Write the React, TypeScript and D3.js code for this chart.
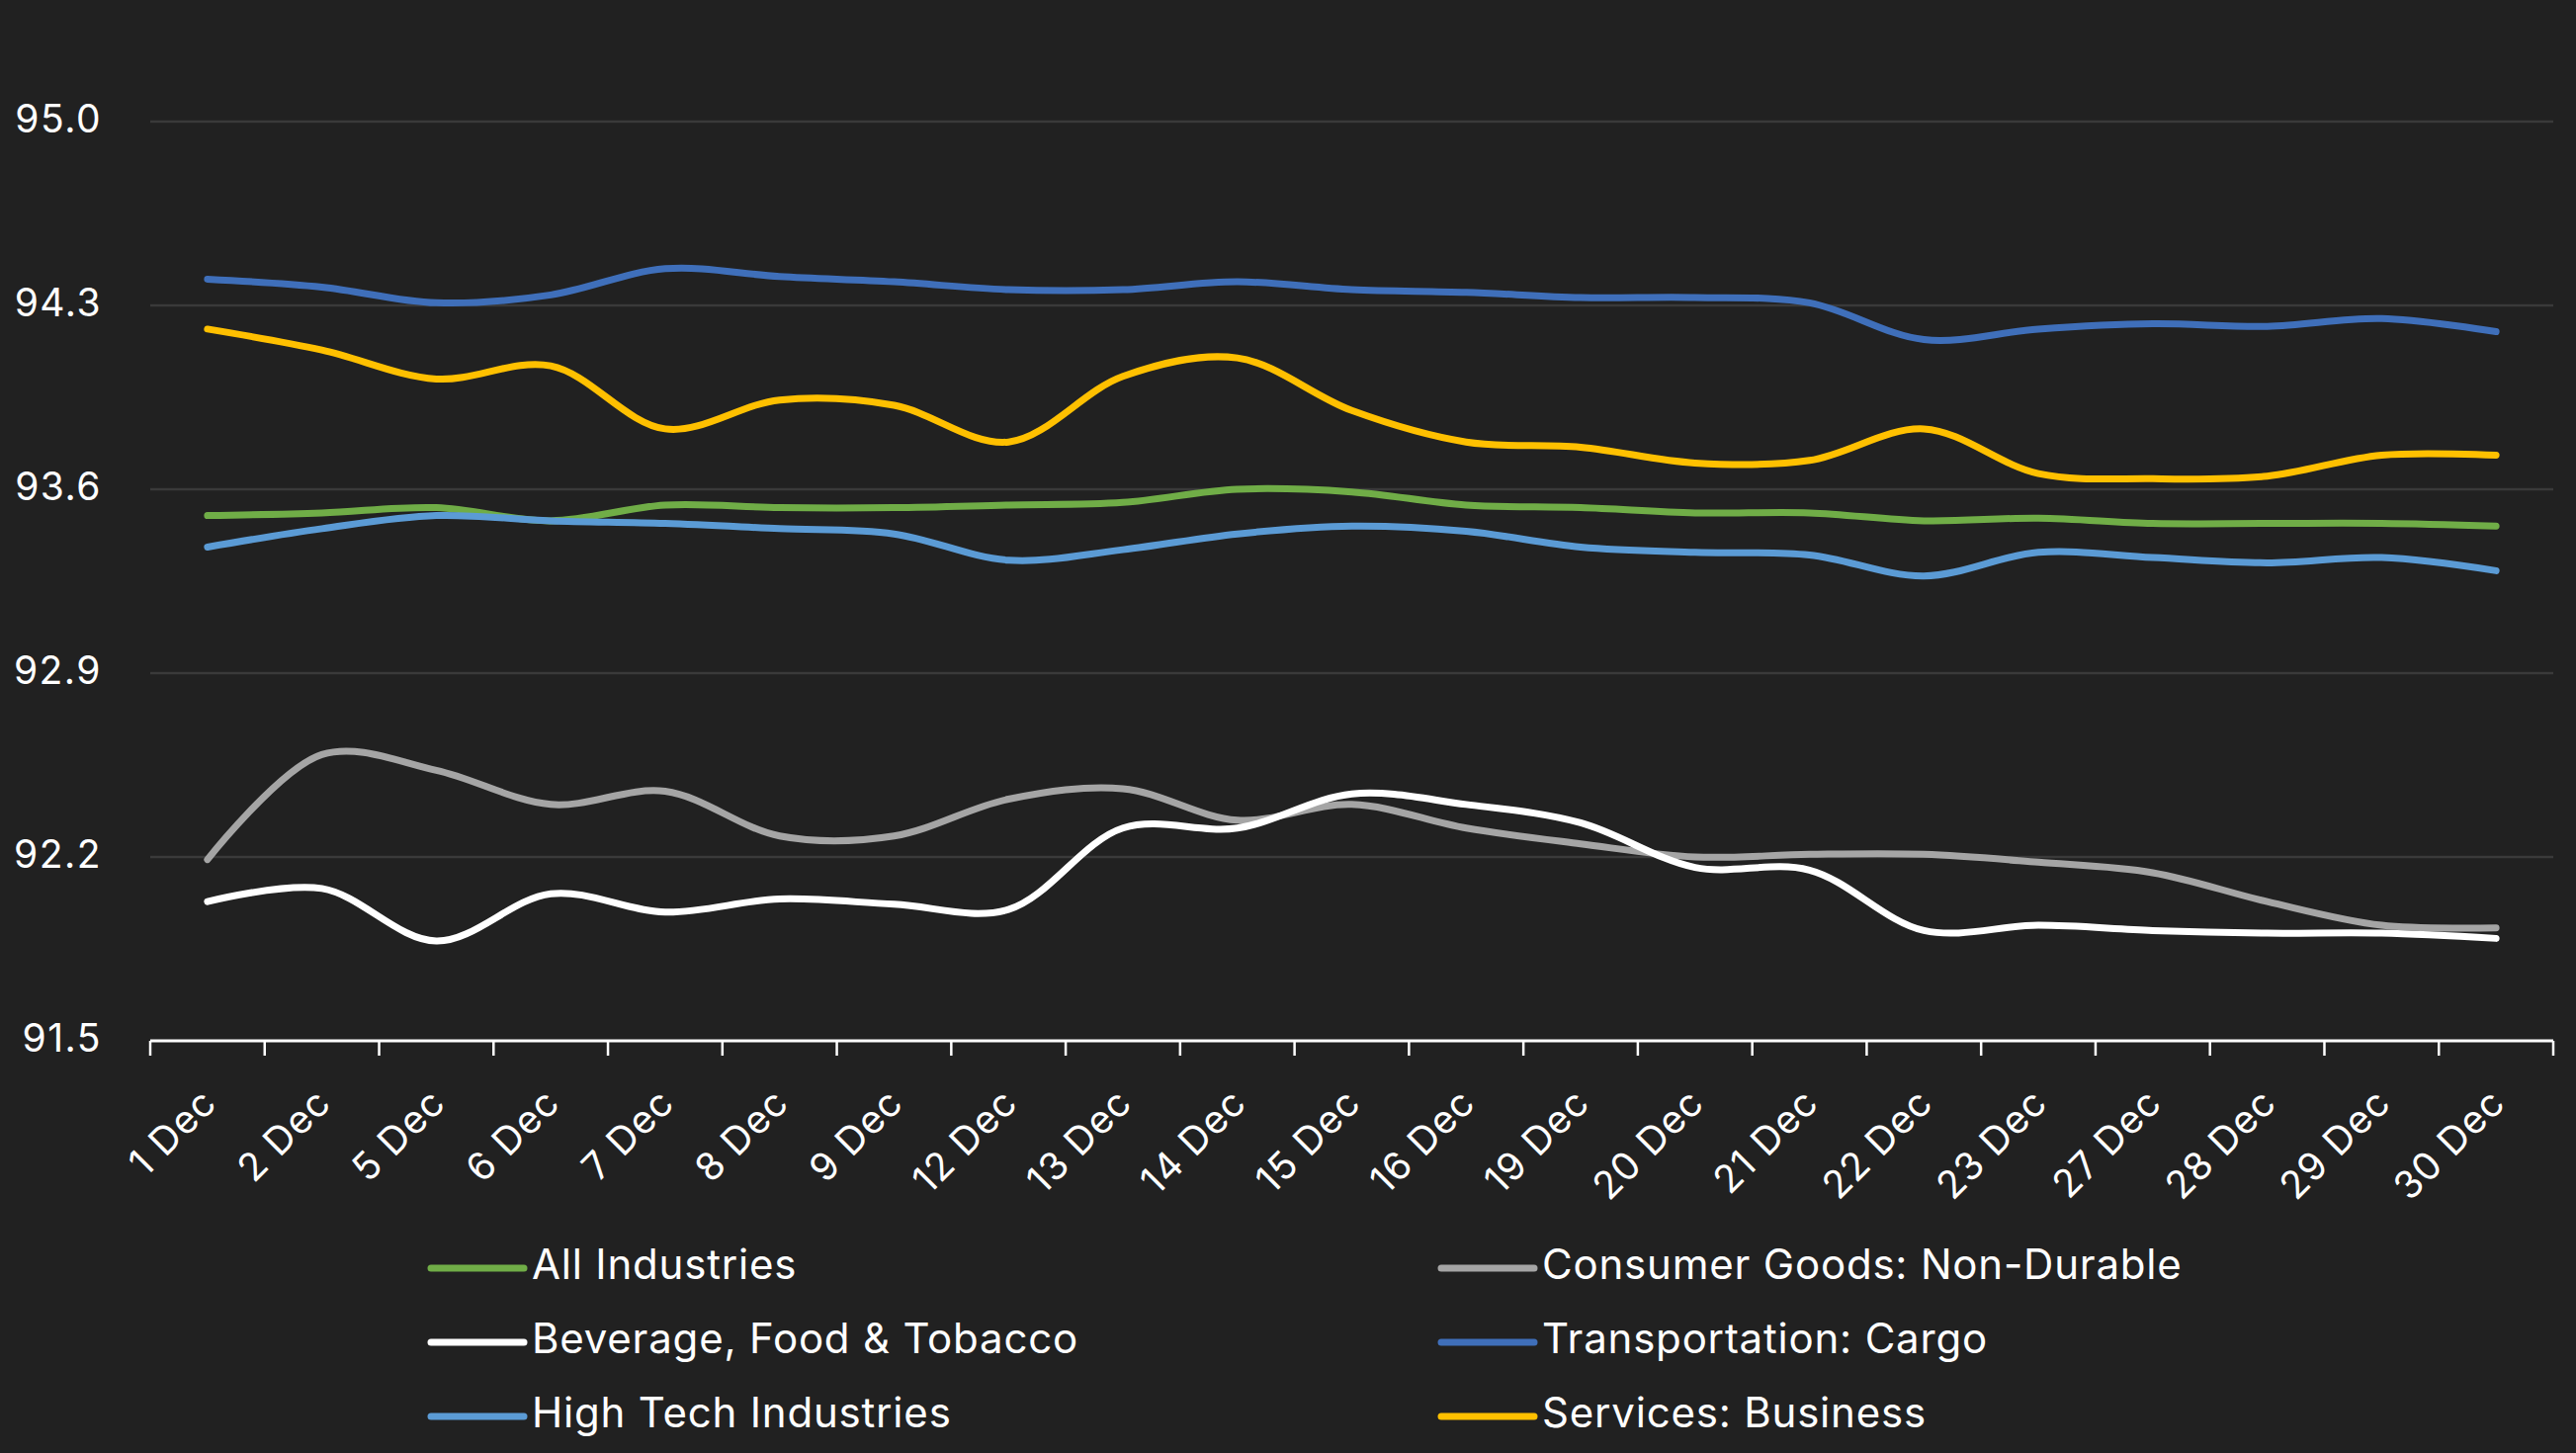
import * as d3 from "d3";
import * as React from "react";

// categories on the x axis
const categories = [
  "1 Dec", "2 Dec", "5 Dec", "6 Dec", "7 Dec", "8 Dec", "9 Dec", "12 Dec", "13 Dec", "14 Dec", "15 Dec",
  "16 Dec", "19 Dec", "20 Dec", "21 Dec", "22 Dec", "23 Dec", "27 Dec", "28 Dec", "29 Dec", "30 Dec",
];

const yTicks = [91.5, 92.2, 92.9, 93.6, 94.3, 95.0];

// series values
const allIndustries = [93.50, 93.51, 93.53, 93.48, 93.54, 93.53, 93.53, 93.54, 93.55, 93.60, 93.59, 93.54, 93.53, 93.51, 93.51, 93.48, 93.49, 93.47, 93.47, 93.47, 93.46];
const consumerGoods = [92.19, 92.59, 92.53, 92.40, 92.45, 92.28, 92.28, 92.42, 92.46, 92.34, 92.40, 92.31, 92.25, 92.20, 92.21, 92.21, 92.18, 92.14, 92.03, 91.94, 91.93];
const beverage = [92.03, 92.08, 91.88, 92.06, 91.99, 92.04, 92.02, 92.00, 92.31, 92.31, 92.44, 92.40, 92.33, 92.16, 92.15, 91.92, 91.94, 91.92, 91.91, 91.91, 91.89];
const transportation = [94.40, 94.37, 94.31, 94.34, 94.44, 94.41, 94.39, 94.36, 94.36, 94.39, 94.36, 94.35, 94.33, 94.33, 94.31, 94.17, 94.21, 94.23, 94.22, 94.25, 94.20];
const highTech = [93.38, 93.45, 93.50, 93.48, 93.47, 93.45, 93.43, 93.33, 93.37, 93.43, 93.46, 93.44, 93.38, 93.36, 93.35, 93.27, 93.36, 93.34, 93.32, 93.34, 93.29];
const services = [94.21, 94.13, 94.02, 94.07, 93.83, 93.94, 93.92, 93.78, 94.03, 94.10, 93.90, 93.78, 93.76, 93.70, 93.71, 93.83, 93.66, 93.64, 93.65, 93.73, 93.73];

const seriesNames = [
  "All Industries",
  "Consumer Goods: Non-Durable",
  "Beverage, Food & Tobacco",
  "Transportation: Cargo",
  "High Tech Industries",
  "Services: Business",
];
const seriesValues = [allIndustries, consumerGoods, beverage, transportation, highTech, services];
const colors = ["#70ad47", "#a5a5a5", "#ffffff", "#3f6fba", "#5b9bd5", "#ffc000"];

const W = 2606;
const H = 1470;
const FONT = "Inter, 'Open Sans', sans-serif";

export default function App() {
  const ref = React.useRef<SVGSVGElement>(null);

  React.useEffect(() => {
    document.body.style.margin = "0";
    document.body.style.background = "#212121";

    const svg = d3.select(ref.current);
    svg.selectAll("*").remove();

    svg.append("rect").attr("width", W).attr("height", H).attr("fill", "#212121");

    const x = d3.scaleBand().domain(categories).range([152, 2583]);
    const y = d3.scaleLinear().domain([91.5, 95.0]).range([1053, 123]);
    const cx = (c: string) => (x(c) as number) + x.bandwidth() / 2;

    // gridlines
    svg.append("g")
      .selectAll("line")
      .data(yTicks.slice(1))
      .enter()
      .append("line")
      .attr("x1", 152)
      .attr("x2", 2583)
      .attr("y1", (d) => y(d))
      .attr("y2", (d) => y(d))
      .attr("stroke", "#3a3a3a")
      .attr("stroke-width", 2.5);

    // y labels
    svg.append("g")
      .selectAll("text")
      .data(yTicks)
      .enter()
      .append("text")
      .attr("x", 103)
      .attr("y", (d) => y(d) + 11)
      .attr("text-anchor", "end")
      .attr("fill", "#ffffff")
      .style("font-family", FONT)
      .style("font-size", "39px")
      .style("letter-spacing", "1.5px")
      .text((d) => d.toFixed(1));

    // x axis line + ticks between categories
    const axis = svg.append("g");
    axis.append("line")
      .attr("x1", 152).attr("x2", 2583)
      .attr("y1", 1053).attr("y2", 1053)
      .attr("stroke", "#ffffff").attr("stroke-width", 3);
    const bounds = categories.map((c) => x(c) as number).concat([2583]);
    axis.selectAll("line.tick")
      .data(bounds)
      .enter()
      .append("line")
      .attr("class", "tick")
      .attr("x1", (d) => d).attr("x2", (d) => d)
      .attr("y1", 1053).attr("y2", 1068)
      .attr("stroke", "#ffffff").attr("stroke-width", 2.5);

    axis.selectAll("text")
      .data(categories)
      .enter()
      .append("text")
      .attr("transform", (d) => `translate(${cx(d) + 11},${1118}) rotate(-45)`)
      .attr("text-anchor", "end")
      .attr("fill", "#ffffff")
      .style("font-family", FONT)
      .style("font-size", "39px")
      .style("letter-spacing", "1px")
      .text((d) => d);

    // lines
    const line = d3.line<number>()
      .x((_, i) => cx(categories[i]))
      .y((d) => y(d))
      .curve(d3.curveCatmullRom.alpha(0.5));

    seriesValues.forEach((vals, k) => {
      svg.append("path")
        .attr("d", line(vals))
        .attr("fill", "none")
        .attr("stroke", colors[k])
        .attr("stroke-width", 7)
        .attr("stroke-linecap", "round")
        .attr("stroke-linejoin", "round");
    });

    // legend, two columns
    const colX = [436, 1458];
    const rowY = [1283, 1358, 1433];
    seriesNames.forEach((name, k) => {
      const lx = colX[k % 2];
      const ly = rowY[Math.floor(k / 2)];
      svg.append("line")
        .attr("x1", lx).attr("x2", lx + 94)
        .attr("y1", ly).attr("y2", ly)
        .attr("stroke", colors[k])
        .attr("stroke-width", 7)
        .attr("stroke-linecap", "round");
      svg.append("text")
        .attr("x", lx + 102)
        .attr("y", ly + 11)
        .attr("fill", "#ffffff")
        .style("font-family", FONT)
        .style("font-size", "42px")
        .style("letter-spacing", "0.8px")
        .text(name);
    });
  }, []);

  return <svg ref={ref} width={W} height={H} style={{ display: "block" }} />;
}
